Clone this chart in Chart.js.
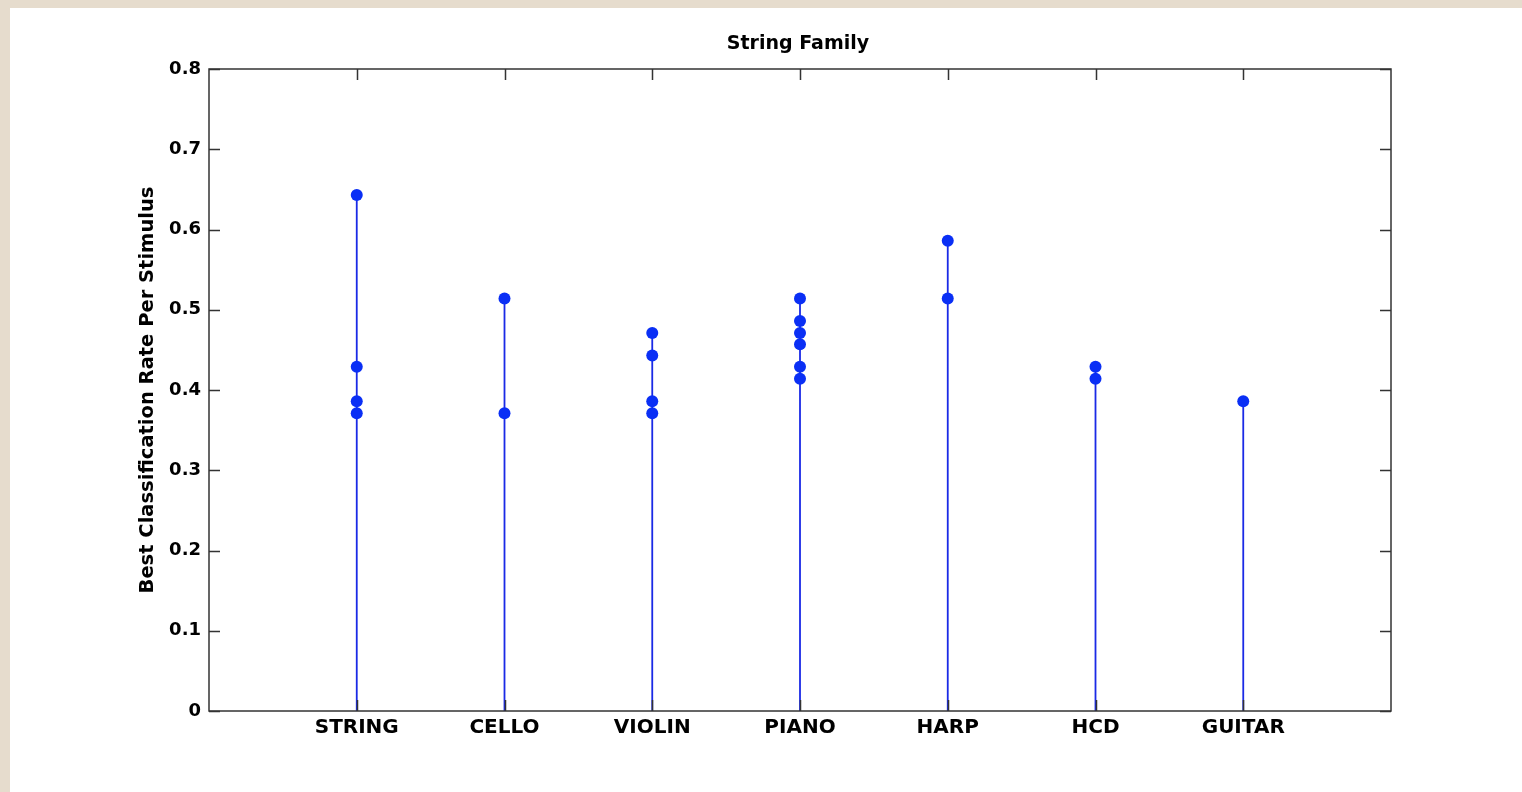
<!DOCTYPE html>
<html>
<head>
<meta charset="utf-8">
<title>String Family</title>
<script src="https://cdn.jsdelivr.net/npm/chart.js@4.4.0/dist/chart.umd.min.js"></script>
<style>
  html, body { margin: 0; padding: 0; }
  body {
    width: 1522px;
    height: 792px;
    overflow: hidden;
    background: #e6dccd;
  }
  .panel {
    position: absolute;
    left: 10px;
    top: 8px;
    width: 1512px;
    height: 784px;
    background: #ffffff;
  }
</style>
</head>
<body>
<div class="panel">
  <canvas id="chart"></canvas>
</div>
<script>
// categories along the x axis
const categories = ["STRING", "CELLO", "VIOLIN", "PIANO", "HARP", "HCD", "GUITAR"];

// best classification rate per stimulus, one list per category
const stringRates = [0.643, 0.429, 0.386, 0.371];
const celloRates = [0.514, 0.371];
const violinRates = [0.471, 0.443, 0.386, 0.371];
const pianoRates = [0.514, 0.486, 0.471, 0.457, 0.429, 0.414];
const harpRates = [0.586, 0.514];
const hcdRates = [0.429, 0.414];
const guitarRates = [0.386];

const yTicks = [0, 0.1, 0.2, 0.3, 0.4, 0.5, 0.6, 0.7, 0.8];

const chartTitle = "String Family";

const allRates = [stringRates, celloRates, violinRates, pianoRates, harpRates, hcdRates, guitarRates];

// scatter points: category i sits at x = i + 1
const pointData = [];
allRates.forEach((rates, i) => {
  rates.forEach((r) => pointData.push({ x: i + 1, y: r }));
});

// stems from 0 up to the highest value of each category, broken by nulls
const stemData = [];
allRates.forEach((rates, i) => {
  stemData.push({ x: i + 1, y: 0 });
  stemData.push({ x: i + 1, y: Math.max(...rates) });
  stemData.push({ x: i + 1, y: null });
});

const FONT = "'DejaVu Sans', sans-serif";
const AXIS_COLOR = "#333333";

// box round the plot with inward tick marks on all four sides, title centred over the plot
const framePlugin = {
  id: "frame",
  afterDatasetsDraw(chart) {
    const { ctx, chartArea, scales } = chart;
    const { left, right, top, bottom } = chartArea;
    const tl = 11;
    ctx.save();
    ctx.strokeStyle = AXIS_COLOR;
    ctx.lineWidth = 1.5;
    ctx.strokeRect(left, top, right - left, bottom - top);
    ctx.beginPath();
    yTicks.forEach((v) => {
      const py = Math.round(scales.y.getPixelForValue(v)) + 0.5;
      ctx.moveTo(left, py);
      ctx.lineTo(left + tl, py);
      ctx.moveTo(right, py);
      ctx.lineTo(right - tl, py);
    });
    categories.forEach((c, i) => {
      const px = Math.round(scales.x.getPixelForValue(i + 1)) + 0.5;
      ctx.moveTo(px, top);
      ctx.lineTo(px, top + tl);
      ctx.moveTo(px, bottom);
      ctx.lineTo(px, bottom - tl);
    });
    ctx.stroke();

    ctx.fillStyle = "#000000";
    ctx.font = "bold 19px " + FONT;
    ctx.textAlign = "center";
    ctx.textBaseline = "middle";
    ctx.fillText(chartTitle, (left + right) / 2 - 2, top - 25);
    ctx.restore();
  },
};

const ctx = document.getElementById("chart").getContext("2d");
new Chart(ctx, {
  type: "scatter",
  data: {
    datasets: [
      {
        label: "Rates",
        data: pointData,
        pointRadius: 6,
        pointHoverRadius: 6.5,
        pointBackgroundColor: "#0a2ff5",
        pointBorderWidth: 0,
        showLine: false,
        order: 0,
      },
      {
        type: "line",
        label: "Stems",
        data: stemData,
        borderColor: "#1a2ae6",
        borderWidth: 1.8,
        pointRadius: 0,
        pointHoverRadius: 0,
        spanGaps: false,
        fill: false,
        tension: 0,
        order: 1,
      },
    ],
  },
  options: {
    responsive: true,
    maintainAspectRatio: false,
    animation: false,
    layout: {
      padding: { left: 0, right: 131, top: 61, bottom: 0 },
    },
    scales: {
      x: {
        type: "linear",
        min: 0,
        max: 8,
        grid: { display: false, drawTicks: false },
        border: { display: false },
        ticks: {
          stepSize: 1,
          autoSkip: false,
          maxRotation: 0,
          padding: 5,
          color: "#000000",
          font: { family: FONT, size: 20, weight: "bold" },
          callback: (value) => categories[value - 1] || "",
        },
        afterFit: (scale) => {
          scale.height = 81;
        },
      },
      y: {
        type: "linear",
        min: 0,
        max: 0.8,
        grid: { display: false, drawTicks: false },
        border: { display: false },
        ticks: {
          stepSize: 0.1,
          padding: 8,
          color: "#000000",
          font: { family: FONT, size: 18, weight: "bold" },
          callback: (value) => String(Math.round(value * 10) / 10),
        },
        title: {
          display: true,
          text: "Best Classification Rate Per Stimulus",
          color: "#000000",
          font: { family: FONT, size: 19.5, weight: "bold" },
          padding: { top: 126, bottom: 0 },
        },
        afterFit: (scale) => {
          scale.width = 199;
        },
      },
    },
    plugins: {
      legend: { display: false },
      title: { display: false },
      tooltip: { enabled: true },
    },
  },
  plugins: [framePlugin],
});
</script>
</body>
</html>
